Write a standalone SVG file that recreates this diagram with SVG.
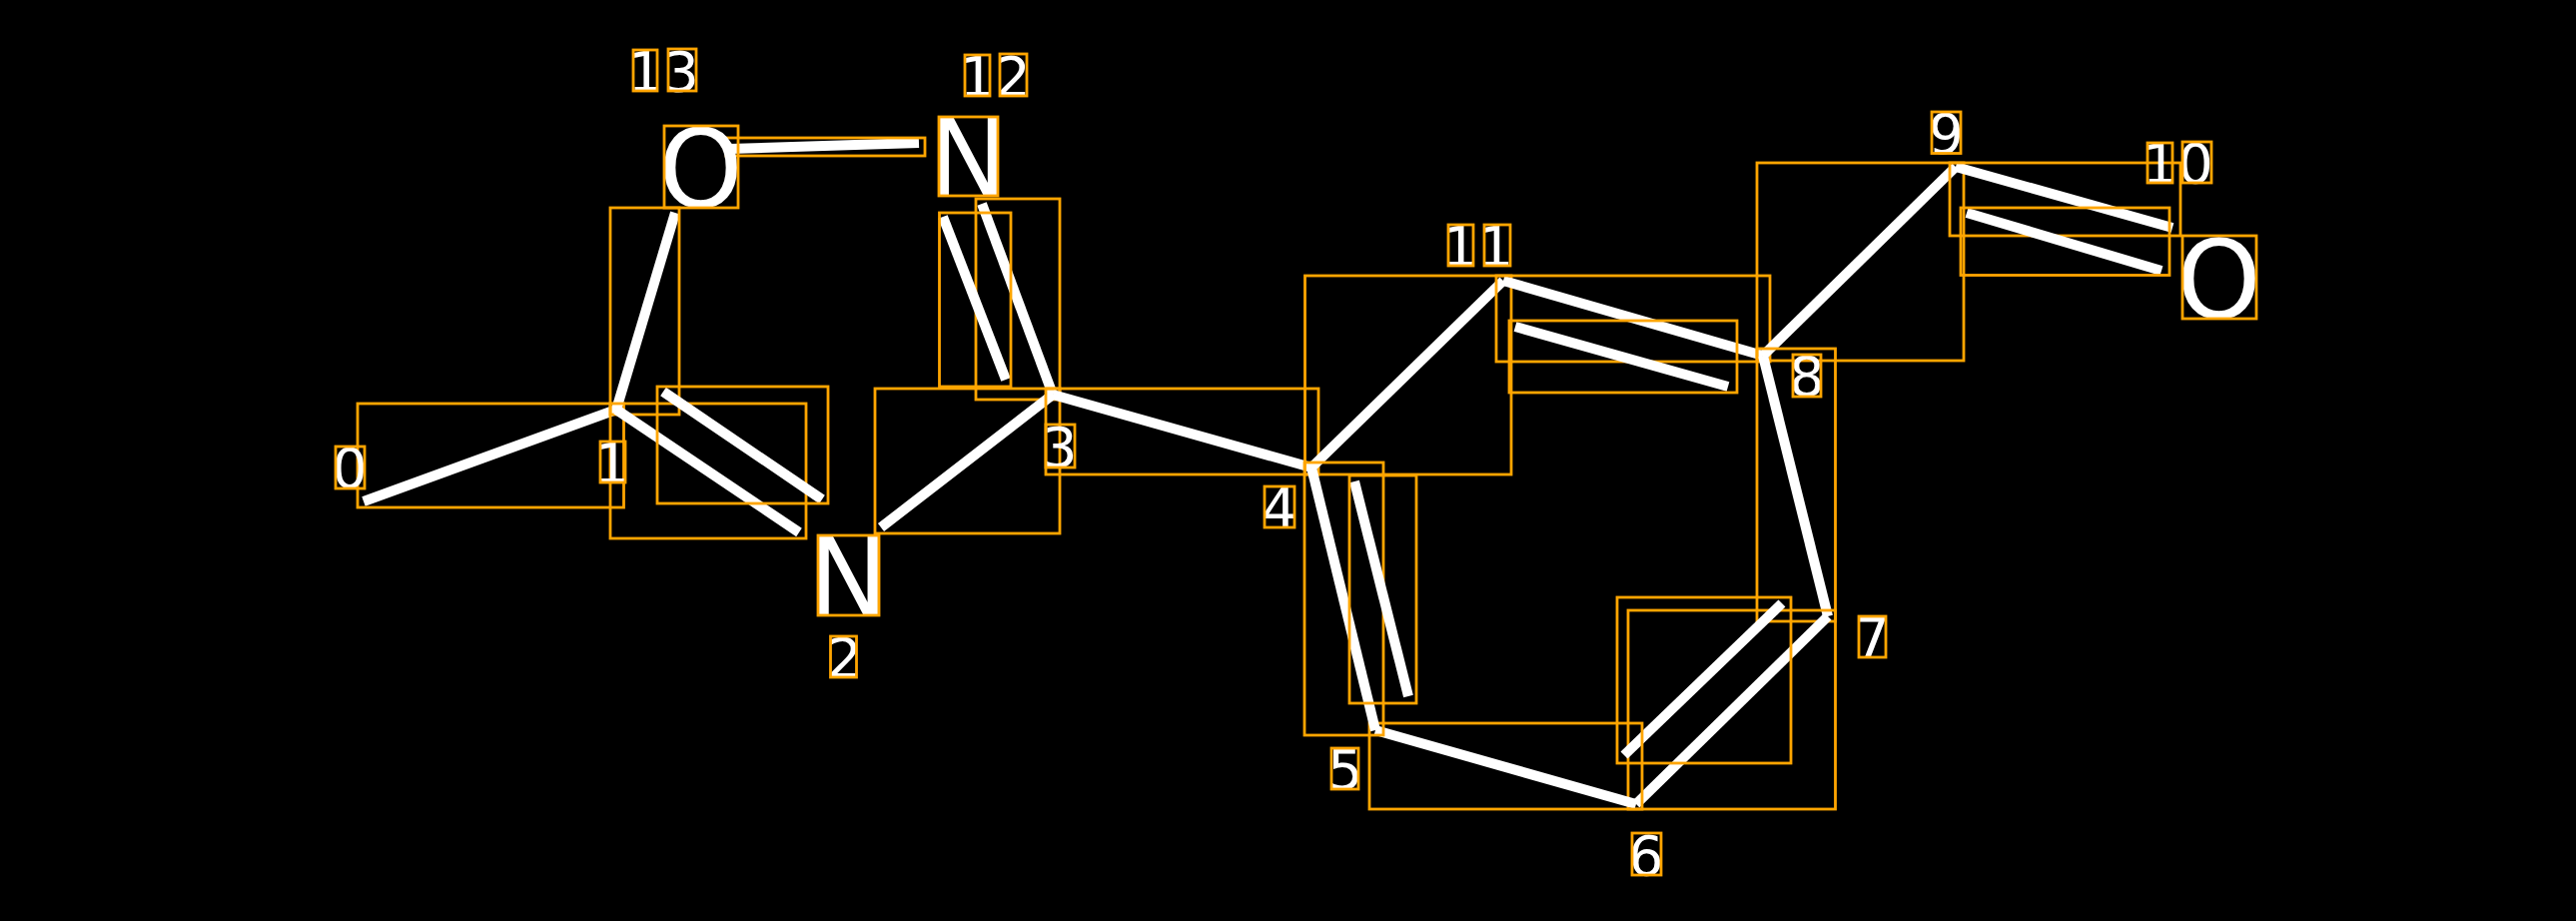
<svg xmlns="http://www.w3.org/2000/svg" width="2579" height="922" viewBox="0 0 2579 922">
<style>
.bg{fill:#000}
.bond{stroke:#fff;stroke-width:10;stroke-linecap:butt;fill:none}
.box{fill:none;stroke:#FFA500;stroke-width:2.8}
.atom{font-family:"DejaVu Sans",sans-serif;font-size:108px;fill:#fff}
.idx{font-family:"DejaVu Sans",sans-serif;font-size:56px;fill:#fff}
</style>
<rect class="bg" x="0" y="0" width="2579" height="922"/>
<g id="connectors">
  <line class="bond" x1="364" y1="502" x2="617" y2="410"/>
  <rect class="box" x="358" y="404" width="266.5" height="104"/>
  <line class="bond" x1="617" y1="410" x2="676" y2="213"/>
  <rect class="box" x="611" y="208" width="69" height="207"/>
  <line class="bond" x1="730" y1="149" x2="920" y2="143"/>
  <rect class="box" x="727" y="138" width="199" height="18"/>
  <line class="bond" x1="983" y1="204" x2="1054" y2="395"/>
  <rect class="box" x="977" y="199" width="84" height="201"/>
  <line class="bond" x1="944" y1="217" x2="1007" y2="380"/>
  <rect class="box" x="940.5" y="213" width="71.5" height="174"/>
  <line class="bond" x1="617" y1="410" x2="800" y2="533"/>
  <rect class="box" x="611" y="404" width="196" height="135"/>
  <line class="bond" x1="664" y1="392" x2="823" y2="500"/>
  <rect class="box" x="658" y="387" width="171" height="117"/>
  <line class="bond" x1="882" y1="528" x2="1054" y2="395"/>
  <rect class="box" x="876" y="389" width="185" height="145"/>
  <line class="bond" x1="1054" y1="395" x2="1313" y2="468"/>
  <rect class="box" x="1047" y="389" width="273" height="86"/>
  <line class="bond" x1="1313" y1="468" x2="1505" y2="281"/>
  <rect class="box" x="1306.5" y="276" width="206.5" height="199"/>
  <line class="bond" x1="1505" y1="281" x2="1765" y2="356"/>
  <rect class="box" x="1498" y="276" width="274" height="86"/>
  <line class="bond" x1="1517" y1="327" x2="1730" y2="387"/>
  <rect class="box" x="1511" y="321" width="228" height="72"/>
  <line class="bond" x1="1765" y1="356" x2="1958" y2="167"/>
  <rect class="box" x="1759" y="163" width="207" height="198"/>
  <line class="bond" x1="1958" y1="167" x2="2175" y2="228"/>
  <rect class="box" x="1952" y="163" width="231" height="73"/>
  <line class="bond" x1="1969" y1="213" x2="2164" y2="271"/>
  <rect class="box" x="1963" y="208" width="209" height="67.5"/>
  <line class="bond" x1="1765" y1="356" x2="1830" y2="617"/>
  <rect class="box" x="1759" y="349" width="78.5" height="273"/>
  <line class="bond" x1="1830" y1="617" x2="1638" y2="805"/>
  <rect class="box" x="1630" y="611" width="207.5" height="199"/>
  <line class="bond" x1="1784" y1="604" x2="1626" y2="756"/>
  <rect class="box" x="1619" y="598" width="174" height="166"/>
  <line class="bond" x1="1638" y1="805" x2="1377" y2="731"/>
  <rect class="box" x="1371" y="724" width="273" height="86"/>
  <line class="bond" x1="1377" y1="731" x2="1313" y2="468"/>
  <rect class="box" x="1306" y="463" width="79" height="273"/>
  <line class="bond" x1="1356" y1="482" x2="1410" y2="697"/>
  <rect class="box" x="1351" y="476" width="67" height="228"/>
</g>
<g id="atom-0">
  <text class="idx" x="332.3" y="488">0</text>
  <rect class="box" x="336" y="447" width="29" height="42"/>
</g>
<g id="atom-1">
  <text class="idx" x="595" y="482.5">1</text>
  <rect class="box" x="601" y="442" width="25" height="41"/>
</g>
<g id="atom-2">
  <text class="atom" x="808.7" y="616">N</text>
  <rect class="box" x="819" y="536" width="61" height="80"/>
  <text class="idx" x="827.4" y="677.5">2</text>
  <rect class="box" x="831.5" y="637" width="26" height="41"/>
</g>
<g id="atom-3">
  <text class="idx" x="1042.9" y="467">3</text>
  <rect class="box" x="1047" y="425" width="29" height="43"/>
</g>
<g id="atom-4">
  <text class="idx" x="1263.1" y="527.5">4</text>
  <rect class="box" x="1266" y="487" width="30" height="41"/>
</g>
<g id="atom-5">
  <text class="idx" x="1329.1" y="789.5">5</text>
  <rect class="box" x="1333" y="749" width="27" height="41"/>
</g>
<g id="atom-6">
  <text class="idx" x="1630" y="875.5">6</text>
  <rect class="box" x="1634" y="834" width="29" height="42"/>
</g>
<g id="atom-7">
  <text class="idx" x="1856.6" y="657.5">7</text>
  <rect class="box" x="1861" y="617" width="27" height="41"/>
</g>
<g id="atom-8">
  <text class="idx" x="1791.1" y="396">8</text>
  <rect class="box" x="1795" y="355" width="28" height="42"/>
</g>
<g id="atom-9">
  <text class="idx" x="1930.5" y="152.5">9</text>
  <rect class="box" x="1934" y="112" width="29" height="41.5"/>
</g>
<g id="atom-10">
  <text class="atom" x="2179" y="317.5">O</text>
  <rect class="box" x="2185" y="236" width="74" height="83"/>
  <text class="idx" x="2144.7" y="183">10</text>
  <rect class="box" x="2150" y="143" width="25" height="40"/>
  <rect class="box" x="2185" y="142" width="29" height="41"/>
</g>
<g id="atom-11">
  <text class="idx" x="1444" y="266">11</text>
  <rect class="box" x="1450" y="225" width="25" height="41"/>
  <rect class="box" x="1486" y="225" width="26" height="41"/>
</g>
<g id="atom-12">
  <text class="atom" x="929" y="196">N</text>
  <rect class="box" x="940" y="117" width="59" height="79"/>
  <text class="idx" x="960.7" y="96">12</text>
  <rect class="box" x="966" y="55" width="25" height="41"/>
  <rect class="box" x="1001" y="54" width="27" height="42"/>
</g>
<g id="atom-13">
  <text class="atom" x="659" y="206.5">O</text>
  <rect class="box" x="665" y="126" width="74" height="82"/>
  <text class="idx" x="628.5" y="90.5">13</text>
  <rect class="box" x="634" y="50" width="24" height="41"/>
  <rect class="box" x="669" y="49" width="28" height="42"/>
</g>
</svg>
